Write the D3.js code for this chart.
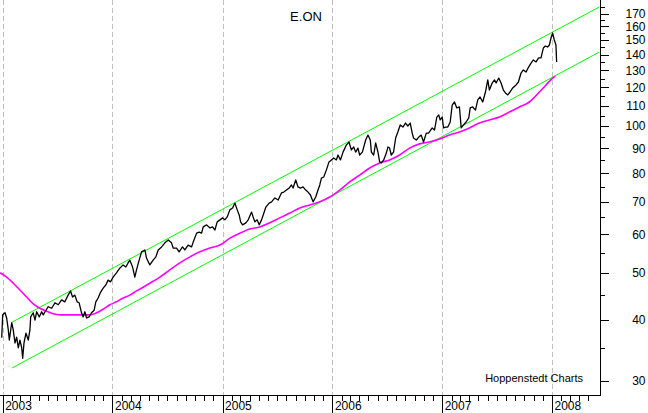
<!DOCTYPE html>
<html><head><meta charset="utf-8">
<script src="https://cdn.jsdelivr.net/npm/d3@7"></script>
<style>
html,body{margin:0;padding:0;background:#fff;}
svg{display:block;}
text{font-family:"Liberation Sans",Arial,sans-serif;}
</style></head>
<body>
<script>
// ---- DATA (decimal years, EUR) ----
const priceT = [2002.991,2003.000,2003.021,2003.036,2003.051,2003.060,2003.082,2003.096,2003.112,2003.127,2003.142,2003.157,2003.173,2003.182,2003.194,2003.212,2003.233,2003.248,2003.255,2003.278,2003.294,2003.309,2003.333,2003.355,2003.369,2003.394,2003.415,2003.446,2003.476,2003.506,2003.536,2003.566,2003.596,2003.618,2003.636,2003.657,2003.678,2003.696,2003.718,2003.733,2003.748,2003.764,2003.787,2003.809,2003.833,2003.848,2003.869,2003.891,2003.915,2003.939,2003.960,2003.982,2004.006,2004.036,2004.066,2004.096,2004.121,2004.142,2004.157,2004.182,2004.203,2004.218,2004.242,2004.264,2004.294,2004.309,2004.339,2004.369,2004.394,2004.415,2004.446,2004.476,2004.506,2004.536,2004.551,2004.582,2004.605,2004.636,2004.657,2004.687,2004.718,2004.733,2004.764,2004.787,2004.809,2004.824,2004.855,2004.885,2004.909,2004.930,2004.951,2004.976,2005.000,2005.021,2005.042,2005.066,2005.091,2005.112,2005.133,2005.151,2005.164,2005.182,2005.212,2005.233,2005.264,2005.278,2005.294,2005.315,2005.333,2005.355,2005.376,2005.394,2005.424,2005.446,2005.476,2005.506,2005.536,2005.557,2005.582,2005.606,2005.627,2005.642,2005.666,2005.687,2005.709,2005.733,2005.757,2005.778,2005.800,2005.824,2005.848,2005.869,2005.885,2005.900,2005.921,2005.945,2005.969,2005.991,2006.012,2006.036,2006.051,2006.073,2006.097,2006.127,2006.151,2006.173,2006.194,2006.212,2006.233,2006.248,2006.273,2006.303,2006.324,2006.345,2006.355,2006.376,2006.394,2006.415,2006.430,2006.446,2006.467,2006.491,2006.506,2006.521,2006.536,2006.557,2006.576,2006.596,2006.618,2006.642,2006.666,2006.687,2006.709,2006.727,2006.739,2006.764,2006.787,2006.809,2006.830,2006.855,2006.876,2006.909,2006.930,2006.951,2006.969,2006.982,2007.000,2007.012,2007.030,2007.051,2007.073,2007.091,2007.112,2007.133,2007.157,2007.173,2007.194,2007.218,2007.242,2007.255,2007.278,2007.303,2007.324,2007.345,2007.369,2007.394,2007.415,2007.430,2007.455,2007.476,2007.491,2007.515,2007.536,2007.557,2007.576,2007.597,2007.618,2007.642,2007.673,2007.694,2007.718,2007.739,2007.764,2007.787,2007.809,2007.830,2007.855,2007.878,2007.900,2007.921,2007.939,2007.960,2007.976,2007.991,2008.006,2008.021,2008.036,2008.042];
const priceV = [36.8,41.0,41.4,40.4,38.2,36.4,39.5,38.2,35.9,36.9,35.1,36.4,35.1,33.4,35.9,37.6,36.4,38.2,40.6,41.4,40.0,41.6,40.6,41.6,41.0,41.9,42.6,42.3,43.4,43.0,44.0,43.6,45.0,45.9,44.6,45.0,43.6,43.4,41.4,40.6,41.6,40.4,40.6,41.4,41.9,43.6,44.4,45.6,46.5,47.2,48.3,47.9,49.0,50.0,51.1,51.9,51.4,52.4,53.1,51.4,49.0,50.7,53.1,55.2,55.7,53.6,51.9,53.1,53.9,55.7,56.5,57.6,58.4,57.6,56.2,56.2,55.2,56.5,55.7,57.0,56.5,57.8,60.3,60.6,60.3,62.1,62.7,61.8,62.1,61.2,63.6,64.2,64.8,64.2,65.1,67.3,67.9,69.5,67.3,65.7,63.6,62.7,63.3,64.2,66.6,65.1,63.6,64.2,62.7,64.2,66.3,68.2,69.5,69.9,71.2,70.5,72.9,73.2,73.9,74.6,75.7,74.6,77.5,75.0,74.6,75.0,73.9,73.2,72.2,69.9,71.5,73.9,75.7,78.2,78.6,81.2,84.4,85.2,86.0,85.2,87.2,85.2,88.4,91.4,92.7,89.3,90.6,88.4,90.1,87.2,88.4,93.6,95.8,93.6,88.4,87.2,92.3,88.4,84.4,84.0,85.2,88.0,90.6,90.1,87.2,88.4,94.5,97.2,100.5,99.5,101.4,100.0,101.4,96.7,94.5,93.6,94.9,95.8,92.7,96.7,96.7,99.1,98.1,104.3,105.3,102.9,104.3,99.1,99.5,99.5,101.9,110.4,112.0,108.9,109.4,99.1,100.5,101.9,103.9,108.9,109.4,107.8,113.1,114.7,112.0,117.4,124.3,118.5,122.5,124.3,122.5,125.4,122.5,118.5,116.9,115.8,117.4,119.7,121.4,123.1,128.4,130.3,129.0,132.1,134.6,136.6,135.3,137.9,137.9,144.5,145.9,145.2,146.6,151.5,155.1,150.1,146.6,135.3];

const maT = [2002.976,2003.036,2003.096,2003.157,2003.218,2003.278,2003.339,2003.400,2003.460,2003.521,2003.612,2003.703,2003.794,2003.855,2003.915,2003.976,2004.036,2004.097,2004.157,2004.218,2004.278,2004.339,2004.430,2004.521,2004.612,2004.703,2004.794,2004.885,2004.976,2005.067,2005.157,2005.248,2005.339,2005.430,2005.521,2005.612,2005.703,2005.794,2005.885,2005.976,2006.067,2006.157,2006.248,2006.339,2006.430,2006.521,2006.612,2006.703,2006.794,2006.885,2006.976,2007.067,2007.157,2007.248,2007.339,2007.430,2007.521,2007.612,2007.703,2007.794,2007.885,2007.946,2008.006,2008.030];
const maV = [50.0,49.0,47.6,46.1,44.6,43.2,42.3,41.7,41.2,41.0,41.0,41.0,41.0,41.4,42.1,43.0,43.6,44.4,45.0,45.9,46.7,47.6,49.0,50.7,52.4,53.9,55.2,56.2,57.0,58.9,60.3,61.5,62.1,63.3,64.8,66.3,67.9,68.9,69.9,71.5,73.9,76.8,79.3,82.0,84.0,85.2,87.2,90.1,91.9,92.7,94.0,95.8,97.2,99.1,101.4,102.9,104.3,106.8,109.4,112.0,117.4,121.4,125.4,126.6];

// trend channel (start/end)
const channelT = [2003.085, 2008.430];
const upperV = [39.6, 175.4];
const lowerV = [31.9, 141.8];

const majorTicks = [30,40,50,60,70,80,90,100,110,120,130,140,150,160,170];
const minorTicks = [35,45,55,65,75,85,95,105,115,125,135,145,155,165,175];
const years = [2003,2004,2005,2006,2007,2008];
const title = "E.ON";
const credit = "Hoppenstedt Charts";

// ---- helpers ----
function toDate(t){
  const y = Math.floor(t);
  const a = Date.UTC(y,0,1), b = Date.UTC(y+1,0,1);
  return new Date(a + (t-y)*(b-a));
}

const W = 648, H = 413;
const plotR = 600, plotB = 395;

const x = d3.scaleUtc()
  .domain([new Date(Date.UTC(2003,0,1)), new Date(Date.UTC(2008,0,1))])
  .range([2.7, 552]);
const y = d3.scaleLog().domain([30,100]).range([381,126]);

const svg = d3.select("body").append("svg").attr("width",W).attr("height",H);

svg.append("defs").append("clipPath").attr("id","clip")
  .append("rect").attr("x",0).attr("y",0).attr("width",plotR).attr("height",plotB);

// gridlines
svg.append("g").selectAll("line").data(years).join("line")
  .attr("x1",d=>Math.round(x(new Date(Date.UTC(d,0,1))))+0.5)
  .attr("x2",d=>Math.round(x(new Date(Date.UTC(d,0,1))))+0.5)
  .attr("y1",0).attr("y2",plotB)
  .attr("stroke","#c0c0c0").attr("stroke-width",1).attr("stroke-dasharray","5,3");

const plot = svg.append("g").attr("clip-path","url(#clip)");

const line = d3.line().x(d=>x(toDate(d[0]))).y(d=>y(d[1]));

// channel
plot.append("path").datum(channelT.map((t,i)=>[t,upperV[i]]))
  .attr("d",line).attr("fill","none").attr("stroke","#00ff00").attr("stroke-width",1);
plot.append("path").datum(channelT.map((t,i)=>[t,lowerV[i]]))
  .attr("d",line).attr("fill","none").attr("stroke","#00ff00").attr("stroke-width",1);

// moving average
plot.append("path").datum(maT.map((t,i)=>[t,maV[i]]))
  .attr("d",line.curve(d3.curveMonotoneX)).attr("fill","none").attr("stroke","#ff00ff").attr("stroke-width",1.6);

// price
plot.append("path").datum(priceT.map((t,i)=>[t,priceV[i]]))
  .attr("d",d3.line().x(d=>x(toDate(d[0]))).y(d=>y(d[1]))).attr("fill","none").attr("stroke","#000").attr("stroke-width",1.3)
  .attr("stroke-linejoin","round");

// right axis
const gy = svg.append("g").attr("transform",`translate(${plotR+0.5},0)`);
gy.call(d3.axisRight(y).tickValues(minorTicks).tickSize(4).tickFormat(""));
gy.call(g=>g.select(".domain").remove());
const gyM = svg.append("g").attr("transform",`translate(${plotR+0.5},0)`);
gyM.call(d3.axisRight(y).tickValues(majorTicks).tickSize(8).tickFormat(d3.format("d")));
gyM.select(".domain").remove();
gyM.selectAll(".tick text").attr("x",45).attr("text-anchor","end")
  .style("font-size","12px").style("font-family","'Liberation Sans',Arial,sans-serif").attr("fill","#000");
svg.append("line").attr("x1",plotR+0.5).attr("x2",plotR+0.5).attr("y1",0).attr("y2",plotB+0.5)
  .attr("stroke","#000");

// bottom axis
const months = d3.utcMonth.range(new Date(Date.UTC(2002,11,1)), new Date(Date.UTC(2008,5,1)))
  .filter(d=>d.getUTCMonth()!==0 && x(d)>=0 && x(d)<=plotR);
const gx = svg.append("g").attr("transform",`translate(0,${plotB+0.5})`);
gx.call(d3.axisBottom(x).tickValues(months).tickSize(5).tickFormat(""));
gx.select(".domain").remove();
const gxY = svg.append("g").attr("transform",`translate(0,${plotB+0.5})`);
gxY.call(d3.axisBottom(x).tickValues(years.map(d=>new Date(Date.UTC(d,0,1)))).tickSize(18).tickFormat(d3.utcFormat("%Y")));
gxY.select(".domain").remove();
gxY.selectAll(".tick text").attr("x",2).attr("y",6).attr("dy","0.71em").attr("text-anchor","start")
  .style("font-size","12px").style("font-family","'Liberation Sans',Arial,sans-serif").attr("fill","#000");
svg.selectAll(".tick line").attr("shape-rendering","crispEdges");
svg.append("line").attr("x1",0).attr("x2",plotR+1).attr("y1",plotB+0.5).attr("y2",plotB+0.5)
  .attr("stroke","#000");

// texts
svg.append("text").attr("x",306).attr("y",21).attr("text-anchor","middle")
  .style("font-size","13px").text(title);
svg.append("text").attr("x",583).attr("y",382).attr("text-anchor","end")
  .style("font-size","11px").text(credit);
</script>
</body></html>
